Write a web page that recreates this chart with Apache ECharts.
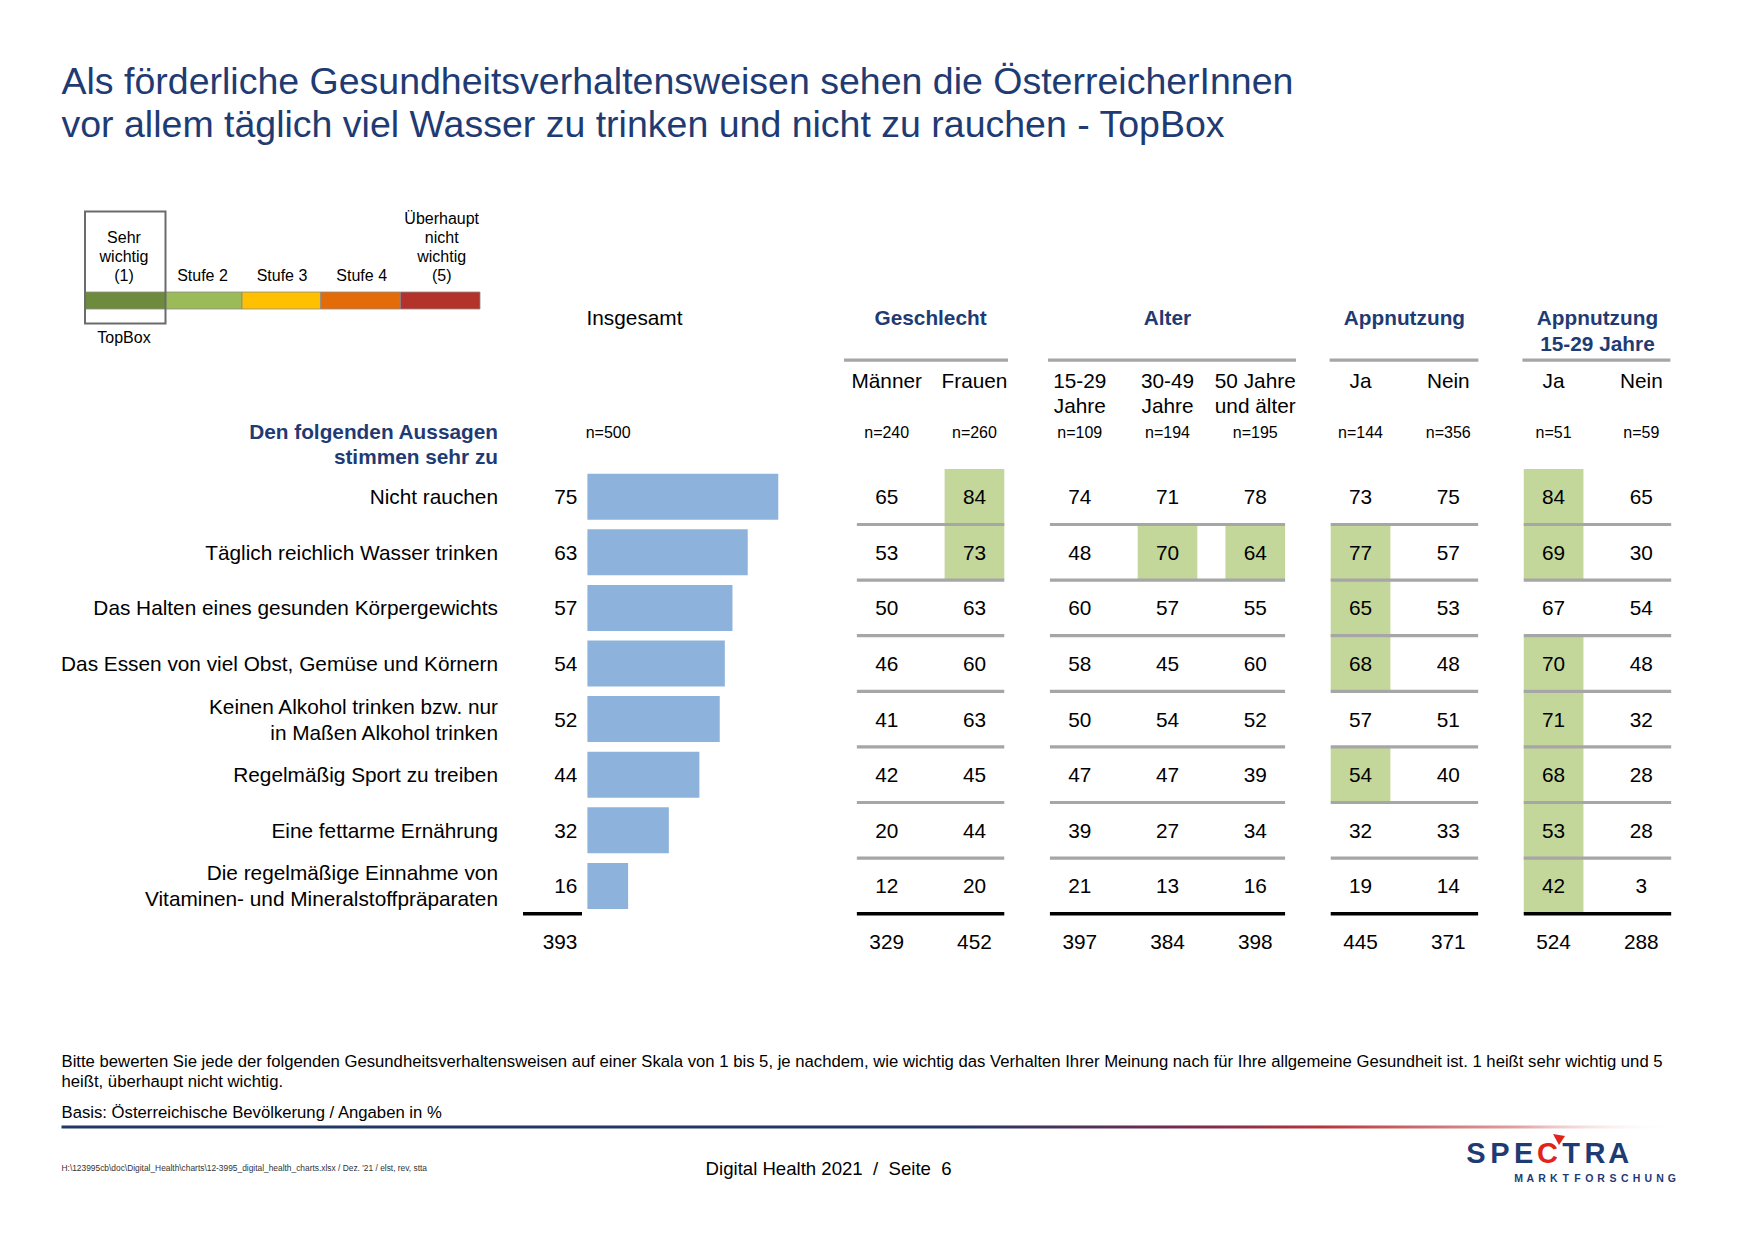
<!DOCTYPE html>
<html><head><meta charset="utf-8">
<script src="https://cdn.jsdelivr.net/npm/echarts@6/dist/echarts.min.js"></script>
<style>html,body{margin:0;padding:0;background:#fff}#c{width:1754px;height:1239px}</style>
</head><body><div id="c"></div>
<script>
// ---------------- DATA ----------------
const titleLines = ['Als förderliche Gesundheitsverhaltensweisen sehen die ÖsterreicherInnen', 'vor allem täglich viel Wasser zu trinken und nicht zu rauchen - TopBox'];
const scaleLabels = ['Sehr\nwichtig\n(1)', 'Stufe 2', 'Stufe 3', 'Stufe 4', 'Überhaupt\nnicht\nwichtig\n(5)'];
const topBoxLabel = 'TopBox';
const statements = [
  'Nicht rauchen',
  'Täglich reichlich Wasser trinken',
  'Das Halten eines gesunden Körpergewichts',
  'Das Essen von viel Obst, Gemüse und Körnern',
  'Keinen Alkohol trinken bzw. nur\nin Maßen Alkohol trinken',
  'Regelmäßig Sport zu treiben',
  'Eine fettarme Ernährung',
  'Die regelmäßige Einnahme von\nVitaminen- und Mineralstoffpräparaten'
];
const rowHeader = 'Den folgenden Aussagen\nstimmen sehr zu';
const totalLabel = 'Insgesamt';
const totalN = 'n=500';
const insgesamt = [75, 63, 57, 54, 52, 44, 32, 16];
const insgesamtSum = 393;
const groupNames = ['Geschlecht', 'Alter', 'Appnutzung', 'Appnutzung\n15-29 Jahre'];
const columnNames = ['Männer', 'Frauen', '15-29\nJahre', '30-49\nJahre', '50 Jahre\nund älter', 'Ja', 'Nein', 'Ja', 'Nein'];
const columnN = ['n=240', 'n=260', 'n=109', 'n=194', 'n=195', 'n=144', 'n=356', 'n=51', 'n=59'];
const maenner    = [65, 53, 50, 46, 41, 42, 20, 12];
const frauen     = [84, 73, 63, 60, 63, 45, 44, 20];
const alter1529  = [74, 48, 60, 58, 50, 47, 39, 21];
const alter3049  = [71, 70, 57, 45, 54, 47, 27, 13];
const alter50    = [78, 64, 55, 60, 52, 39, 34, 16];
const appJa      = [73, 77, 65, 68, 57, 54, 32, 19];
const appNein    = [75, 57, 53, 48, 51, 40, 33, 14];
const app1529Ja  = [84, 69, 67, 70, 71, 68, 53, 42];
const app1529Nein= [65, 30, 54, 48, 32, 28, 28, 3];
const columnSums = [329, 452, 397, 384, 398, 445, 371, 524, 288];
// highlighted cells [row, column]
const highlighted = [[0,1],[0,7],[1,1],[1,3],[1,4],[1,5],[1,7],[2,5],[3,5],[3,7],[4,7],[5,5],[5,7],[6,7],[7,7]];
const footnote1 = 'Bitte bewerten Sie jede der folgenden Gesundheitsverhaltensweisen auf einer Skala von 1 bis 5, je nachdem, wie wichtig das Verhalten Ihrer Meinung nach für Ihre allgemeine Gesundheit ist. 1 heißt sehr wichtig und 5';
const footnote2 = 'heißt, überhaupt nicht wichtig.';
const basisText = 'Basis: Österreichische Bevölkerung / Angaben in %';
const pathText = "H:\\123995cb\\doc\\Digital_Health\\charts\\12-3995_digital_health_charts.xlsx / Dez. '21 / elst, rev, stta";
const footerText = 'Digital Health 2021  /  Seite  6';
const logoWord = 'SPECTRA';
const logoSub = 'MARKTFORSCHUNG';

// ---------------- LAYOUT / STYLE ----------------
const FONT = '"Liberation Sans", Arial, Helvetica, sans-serif';
const FS = 20.8;
const NAVY = '#1F3B73';
const BAR = '#8DB3DC';
const GREEN = '#C4D79B';
const GRAY = '#A6A6A6';
const tableCols = [maenner, frauen, alter1529, alter3049, alter50, appJa, appNein, app1529Ja, app1529Nein];
const colPos = [0, 1, 2.2, 3.2, 4.2, 5.4, 6.4, 7.6, 8.6];
const groupCols = [[0, 1], [2, 4], [5, 6], [7, 8]];
const GRID_TOP = 468.9, BAND = 55.6, NROWS = 9;
const TB_LEFT = 798.95, TB_UNIT = 87.75, TB_MIN = -1, TB_MAX = 9.6;
const colX = i => TB_LEFT + (colPos[i] - TB_MIN) * TB_UNIT;
const CELL_HALF = 0.34;
const scaleColors = ['#6E8B3D', '#9BBB59', '#FFC000', '#E36C09', '#B3332A'];
const scaleEdges = [85, 165.5, 242, 320.7, 400.3, 480];
const scaleLabelPos = [[124, 256.7], [202.5, 275.5], [282, 275.5], [361.7, 275.5], [441.7, 246.5]];
const headerLineSpans = [[844, 1008], [1048, 1296], [1329.6, 1478.4], [1522.4, 1670.4]];

// ---------------- BUILD ----------------
const hiSet = new Set(highlighted.map(h => h[0] + '_' + h[1]));
const cellData = [];
tableCols.forEach((arr, c) => {
  arr.forEach((v, r) => cellData.push([colPos[c], r, v, hiSet.has(r + '_' + c) ? 1 : 0]));
  cellData.push([colPos[c], 8, columnSums[c], 0]);
});
const lineData = [];
groupCols.forEach(g => {
  for (let r = 0; r < 8; r++) lineData.push([colPos[g[0]] - CELL_HALF, colPos[g[1]] + CELL_HALF, r, r === 7 ? 1 : 0]);
});

function T(text, x, y, o) {
  o = o || {};
  return {
    type: 'text', x: x, y: y, silent: true,
    style: {
      text: text, fill: o.fill || '#000', fontSize: o.size || FS, fontFamily: FONT,
      fontWeight: o.weight || 'normal', align: o.align || 'center', verticalAlign: o.va || 'middle',
      lineHeight: o.lh || Math.round((o.size || FS) * 1.2)
    }
  };
}

const graphics = [];
// title
graphics.push(T(titleLines[0], 61.5, 80.6, {size: 37.5, align: 'left', fill: NAVY}));
graphics.push(T(titleLines[1], 61.5, 124.2, {size: 37.5, align: 'left', fill: NAVY}));
// scale legend
for (let i = 0; i < 5; i++) {
  graphics.push({type: 'rect', shape: {x: scaleEdges[i], y: 292, width: scaleEdges[i + 1] - scaleEdges[i], height: 17},
    style: {fill: scaleColors[i], stroke: '#8a8a8a', lineWidth: 0.8}});
  graphics.push(T(scaleLabels[i], scaleLabelPos[i][0], scaleLabelPos[i][1], {size: 16, lh: 19}));
}
graphics.push({type: 'rect', shape: {x: 85, y: 211.5, width: 80.5, height: 111.9}, style: {fill: 'none', stroke: '#6b6b6b', lineWidth: 2}});
graphics.push(T(topBoxLabel, 124, 337, {size: 16}));
// headers
graphics.push(T(totalLabel, 586.5, 317.3, {align: 'left'}));
graphics.push(T(totalN, 585.7, 432.7, {align: 'left', size: 16}));
graphics.push(T(rowHeader, 498, 444, {align: 'right', weight: 'bold', fill: NAVY, lh: 24.3}));
groupCols.forEach((g, i) => {
  const cx = (colX(g[0]) + colX(g[1])) / 2;
  graphics.push(T(groupNames[i], cx, 304.3, {va: 'top', weight: 'bold', fill: NAVY, lh: 26}));
  graphics.push({type: 'rect', shape: {x: headerLineSpans[i][0], y: 358.5, width: headerLineSpans[i][1] - headerLineSpans[i][0], height: 3.2}, style: {fill: GRAY}});
});
columnNames.forEach((n, i) => {
  graphics.push(T(n, colX(i), 368.2, {va: 'top', lh: 25}));
  graphics.push(T(columnN[i], colX(i), 432.7, {size: 16}));
});
// footnotes
graphics.push(T(footnote1, 61.5, 1061.7, {align: 'left', size: 16.7}));
graphics.push(T(footnote2, 61.5, 1081, {align: 'left', size: 16.7}));
graphics.push(T(basisText, 61.5, 1112.7, {align: 'left', size: 16.7}));
graphics.push({type: 'rect', shape: {x: 61.5, y: 1125.5, width: 1616.5, height: 3},
  style: {fill: new echarts.graphic.LinearGradient(0, 0, 1, 0, [
    {offset: 0, color: '#1F3864'}, {offset: 0.55, color: '#1F3864'}, {offset: 0.7, color: '#7A2A4E'},
    {offset: 0.78, color: '#B8343A'}, {offset: 0.9, color: '#E0A0A0'}, {offset: 1, color: 'rgba(255,255,255,0)'}])}});
graphics.push(T(pathText, 61.5, 1168, {align: 'left', size: 8.4, fill: '#333'}));
graphics.push(T(footerText, 828.6, 1168, {size: 18.6}));
// logo
for (let i = 0; i < logoWord.length; i++) {
  graphics.push(T(logoWord[i], 1476 + i * 23.8, 1153, {size: 29, weight: 'bold', fill: logoWord[i] === 'C' ? '#E2231A' : '#1F3B73'}));
}
graphics.push({type: 'polygon', shape: {points: [[1553, 1134], [1565, 1136], [1559, 1145]]}, style: {fill: '#E2231A'}});
for (let i = 0; i < logoSub.length; i++) {
  graphics.push(T(logoSub[i], 1518.5 + i * 11.8, 1177.7, {size: 10.5, weight: 'bold', fill: '#1F3B73'}));
}

const rowCats = statements.concat(['']);
const option = {
  animation: false,
  backgroundColor: '#fff',
  grid: [
    {left: 587.4, top: GRID_TOP, width: 254.5, height: BAND * NROWS, containLabel: false},
    {left: TB_LEFT, top: GRID_TOP, width: (TB_MAX - TB_MIN) * TB_UNIT, height: BAND * NROWS, containLabel: false}
  ],
  xAxis: [
    {gridIndex: 0, type: 'value', min: 0, max: 100, show: false},
    {gridIndex: 1, type: 'value', min: TB_MIN, max: TB_MAX, show: false}
  ],
  yAxis: [
    {gridIndex: 0, type: 'category', data: rowCats, inverse: true,
      axisLine: {show: false}, axisTick: {show: false}, splitLine: {show: false},
      axisLabel: {margin: 89.4, color: '#000', fontSize: FS, fontFamily: FONT, lineHeight: 26, align: 'right'}},
    {gridIndex: 1, type: 'category', data: rowCats, inverse: true, show: false}
  ],
  series: [
    {type: 'bar', xAxisIndex: 0, yAxisIndex: 0, data: insgesamt.concat(['-']), barWidth: 46,
      itemStyle: {color: BAR}, silent: true,
      label: {show: true, position: 'left', distance: 10, color: '#000', fontSize: FS, fontFamily: FONT}},
    {type: 'custom', xAxisIndex: 0, yAxisIndex: 0, silent: true, clip: false,
      data: [[0, 8, insgesamtSum]],
      renderItem: function (params, api) {
        const p = api.coord([0, api.value(1)]);
        const band = api.size([0, 1])[1];
        return {type: 'group', children: [
          {type: 'rect', shape: {x: p[0] - 64.4, y: p[1] - band / 2 - 1.7, width: 59, height: 3.4}, style: {fill: '#000'}},
          {type: 'text', style: {text: String(api.value(2)), x: p[0] - 10, y: p[1], align: 'right', verticalAlign: 'middle', fill: '#000', fontSize: FS, fontFamily: FONT}}
        ]};
      }},
    {type: 'custom', xAxisIndex: 1, yAxisIndex: 1, silent: true, clip: false,
      data: cellData,
      renderItem: function (params, api) {
        const x = api.value(0), r = api.value(1);
        const p = api.coord([x, r]);
        const band = api.size([0, 1])[1];
        const w = api.size([CELL_HALF * 2, 0])[0];
        const ch = [];
        if (api.value(3)) ch.push({type: 'rect', shape: {x: p[0] - w / 2, y: p[1] - band / 2, width: w, height: band}, style: {fill: GREEN}});
        ch.push({type: 'text', style: {text: String(api.value(2)), x: p[0], y: p[1], align: 'center', verticalAlign: 'middle', fill: '#000', fontSize: FS, fontFamily: FONT}});
        return {type: 'group', children: ch};
      }},
    {type: 'custom', xAxisIndex: 1, yAxisIndex: 1, silent: true, clip: false,
      data: lineData,
      renderItem: function (params, api) {
        const r = api.value(2);
        const p1 = api.coord([api.value(0), r]);
        const p2 = api.coord([api.value(1), r]);
        const band = api.size([0, 1])[1];
        const black = api.value(3) === 1;
        const th = black ? 3.4 : 3.2;
        return {type: 'rect', shape: {x: p1[0], y: p1[1] + band / 2 - th / 2, width: p2[0] - p1[0], height: th},
          style: {fill: black ? '#000' : GRAY}};
      }}
  ],
  graphic: {elements: graphics}
};
const chart = echarts.init(document.getElementById('c'), null, {renderer: 'svg'});
chart.setOption(option);
</script>
</body></html>
